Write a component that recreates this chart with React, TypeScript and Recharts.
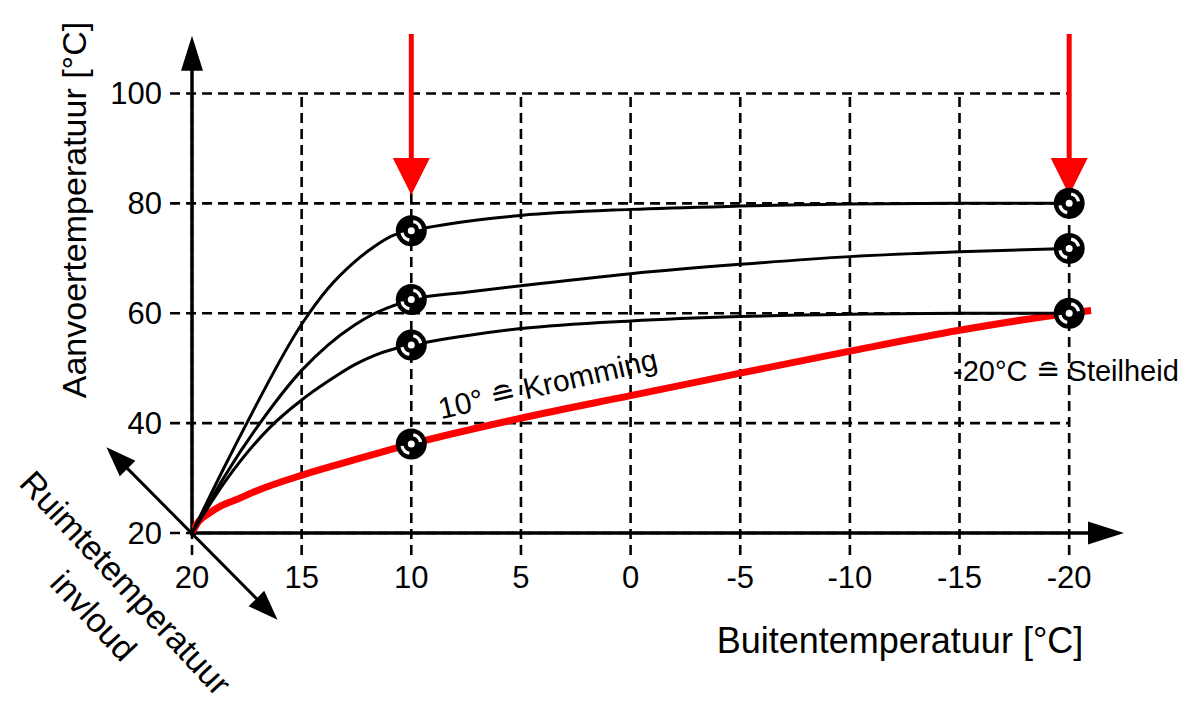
import {
  ComposedChart,
  Line,
  Scatter,
  XAxis,
  YAxis,
  ReferenceLine,
} from "recharts";

// buitentemperatuur (x) en aanvoertemperatuur (y) per stooklijn
const highTemps = [20, 18.5, 17.5, 15, 13.8, 12.6, 11.7, 10.8, 10, 7.5, 5, 0, -5, -10, -15, -20];
const highValues = [20, 32.2, 40, 58, 64.5, 69.3, 72.1, 74.2, 75, 76.7, 77.8, 78.9, 79.5, 79.9, 80, 80];

const midTemps = [20, 18.5, 16.9, 15, 13.8, 12.6, 11.7, 10.8, 10, 7.5, 5, 0, -5, -10, -15, -20];
const midValues = [20, 30.4, 40, 49.6, 54.2, 57.8, 59.9, 61.4, 62.5, 63.8, 65, 67.2, 68.9, 70.3, 71.2, 71.8];

const lowTemps = [20, 18.5, 16.5, 15, 13.8, 12.6, 11.7, 10.8, 10, 7.5, 5, 0, -5, -10, -15, -20];
const lowValues = [20, 29.3, 39, 44.2, 47.6, 50.6, 52.3, 53.5, 54.2, 55.9, 57.2, 58.6, 59.4, 59.8, 60, 60];

const redTemps = [20, 19.7, 19.3, 18.7, 17.9, 17.1, 15, 13.4, 11.8, 10, 5, 0, -5, -10, -15, -20, -21];
const redValues = [20, 22.1, 23.4, 24.9, 26.2, 27.6, 30.5, 32.4, 34.2, 36.2, 40.9, 45, 49.1, 53.1, 56.9, 60, 60.5];

const xTicks = [20, 15, 10, 5, 0, -5, -10, -15, -20];
const yTicks = [20, 40, 60, 80, 100];

// punten waar de markeringen staan
const kneeTemp = 10;
const endTemp = -20;

const FONT = '"Liberation Sans", Arial, Helvetica, sans-serif';

const toPoints = (xs: number[], ys: number[]) => xs.map((x, i) => ({ x, y: ys[i] }));

const highData = toPoints(highTemps, highValues);
const midData = toPoints(midTemps, midValues);
const lowData = toPoints(lowTemps, lowValues);
const redData = toPoints(redTemps, redValues);

const valueAt = (xs: number[], ys: number[], t: number) => ys[xs.indexOf(t)];

const markers = [
  { x: kneeTemp, y: valueAt(highTemps, highValues, kneeTemp) },
  { x: kneeTemp, y: valueAt(midTemps, midValues, kneeTemp) },
  { x: kneeTemp, y: valueAt(lowTemps, lowValues, kneeTemp) },
  { x: kneeTemp, y: valueAt(redTemps, redValues, kneeTemp) },
  { x: endTemp, y: valueAt(highTemps, highValues, endTemp) },
  { x: endTemp, y: valueAt(midTemps, midValues, endTemp) },
  { x: endTemp, y: valueAt(lowTemps, lowValues, endTemp) },
];

function arc(cx: number, cy: number, r: number, a0: number, a1: number) {
  const rad = (a: number) => (a * Math.PI) / 180;
  const x0 = cx + r * Math.cos(rad(a0));
  const y0 = cy + r * Math.sin(rad(a0));
  const x1 = cx + r * Math.cos(rad(a1));
  const y1 = cy + r * Math.sin(rad(a1));
  return `M${x0},${y0} A${r},${r} 0 0 1 ${x1},${y1}`;
}

const Marker = (props: any) => {
  const { cx, cy } = props;
  if (cx == null || cy == null) return null;
  return (
    <g>
      <circle cx={cx} cy={cy} r={15.5} fill="#000" />
      <path d={arc(cx, cy, 9.5, -78, -12)} stroke="#fff" strokeWidth={3.2} fill="none" />
      <path d={arc(cx, cy, 9.5, 102, 168)} stroke="#fff" strokeWidth={3.2} fill="none" />
      <circle cx={cx} cy={cy} r={3.5} fill="#fff" />
    </g>
  );
};

function arrow(color: string, width: number, head: number, headW: number, both = false) {
  return (p: any) => {
    const { x1, y1, x2, y2 } = p;
    const dx = x2 - x1;
    const dy = y2 - y1;
    const len = Math.hypot(dx, dy) || 1;
    const ux = dx / len;
    const uy = dy / len;
    const px = -uy;
    const py = ux;
    const tri = (tx: number, ty: number, dx: number, dy: number) => {
      const bx = tx - dx * head;
      const by = ty - dy * head;
      return `${tx},${ty} ${bx + (px * headW) / 2},${by + (py * headW) / 2} ${bx - (px * headW) / 2},${by - (py * headW) / 2}`;
    };
    const sx = both ? x1 + ux * head * 0.8 : x1;
    const sy = both ? y1 + uy * head * 0.8 : y1;
    return (
      <g>
        <line x1={sx} y1={sy} x2={x2 - ux * head * 0.8} y2={y2 - uy * head * 0.8} stroke={color} strokeWidth={width} />
        <polygon points={tri(x2, y2, ux, uy)} fill={color} />
        {both && <polygon points={tri(x1, y1, -ux, -uy)} fill={color} />}
      </g>
    );
  };
}

export default function App() {
  return (
    <div style={{ position: "absolute", left: 0, top: 0, width: 1192, height: 710, background: "#fff", fontFamily: FONT }}>
      <ComposedChart width={1192} height={710} margin={{ top: 33, right: 68, bottom: 117, left: 132 }}>
        <XAxis
          dataKey="x"
          type="number"
          domain={[-22.5, 20]}
          reversed
          allowDataOverflow
          ticks={xTicks}
          interval={0}
          axisLine={false}
          tickLine={false}
          tickSize={0}
          tickMargin={33}
          height={60}
          tick={{ fontSize: 31, fill: "#000", fontFamily: FONT }}
        />
        <YAxis
          type="number"
          domain={[20, 111]}
          allowDataOverflow
          ticks={yTicks}
          interval={0}
          axisLine={false}
          tickLine={false}
          tickSize={0}
          tickMargin={30}
          width={60}
          tick={{ fontSize: 31, fill: "#000", fontFamily: FONT }}
        />

        {/* gestippeld raster, loopt iets buiten de assen door */}
        {yTicks.map((v) => (
          <ReferenceLine
            key={"h" + v}
            segment={[{ x: 21, y: v }, { x: -20, y: v }]}
            ifOverflow="visible"
            stroke="#000"
            strokeWidth={2.6}
            strokeDasharray="10 6"
          />
        ))}
        {xTicks.map((v) => (
          <ReferenceLine
            key={"v" + v}
            segment={[{ x: v, y: 16 }, { x: v, y: 100 }]}
            ifOverflow="visible"
            stroke="#000"
            strokeWidth={2.6}
            strokeDasharray="10 6"
          />
        ))}

        {/* assen met pijlen */}
        <ReferenceLine segment={[{ x: 20, y: 20 }, { x: -22.5, y: 20 }]} ifOverflow="visible" shape={arrow("#000", 3.5, 36, 23)} />
        <ReferenceLine segment={[{ x: 20, y: 19.5 }, { x: 20, y: 110.5 }]} ifOverflow="visible" shape={arrow("#000", 3.5, 35, 22)} />
        <ReferenceLine segment={[{ x: 23.9, y: 35.6 }, { x: 16.1, y: 4.2 }]} ifOverflow="visible" shape={arrow("#000", 3, 30, 22, true)} />

        {/* rode pijlen */}
        {[kneeTemp, endTemp].map((t) => (
          <ReferenceLine key={"r" + t} segment={[{ x: t, y: 110.8 }, { x: t, y: 81.5 }]} ifOverflow="visible" shape={arrow("#ff0000", 5, 37, 37)} />
        ))}

        <Line data={redData} dataKey="y" type="monotone" stroke="#ff0000" strokeWidth={7} dot={false} isAnimationActive={false} />
        <Line data={lowData} dataKey="y" type="monotone" stroke="#000" strokeWidth={3} dot={false} isAnimationActive={false} />
        <Line data={midData} dataKey="y" type="monotone" stroke="#000" strokeWidth={3} dot={false} isAnimationActive={false} />
        <Line data={highData} dataKey="y" type="monotone" stroke="#000" strokeWidth={3} dot={false} isAnimationActive={false} />
        <Scatter data={markers} dataKey="y" shape={<Marker />} isAnimationActive={false} />
      </ComposedChart>

      <svg width={1192} height={710} style={{ position: "absolute", left: 0, top: 0, pointerEvents: "none" }} fontFamily={FONT} fill="#000">
        <text x={86} y={210} fontSize={34} textAnchor="middle" transform="rotate(-90 86 210)">
          Aanvoertemperatuur [°C]
        </text>
        <text x={900} y={653} fontSize={36} textAnchor="middle">
          Buitentemperatuur [°C]
        </text>
        <text fontSize={30} textAnchor="middle" transform="translate(550 394) rotate(-13)">
          10° ≘ Kromming
        </text>
        <text x={953} y={381} fontSize={29}>
          -20°C ≘ Steilheid
        </text>
        <text fontSize={34} textAnchor="middle" transform="translate(117 591) rotate(47)">
          Ruimtetemperatuur
        </text>
        <text fontSize={34} textAnchor="middle" transform="translate(85 624) rotate(47)">
          invloud
        </text>
      </svg>
    </div>
  );
}
